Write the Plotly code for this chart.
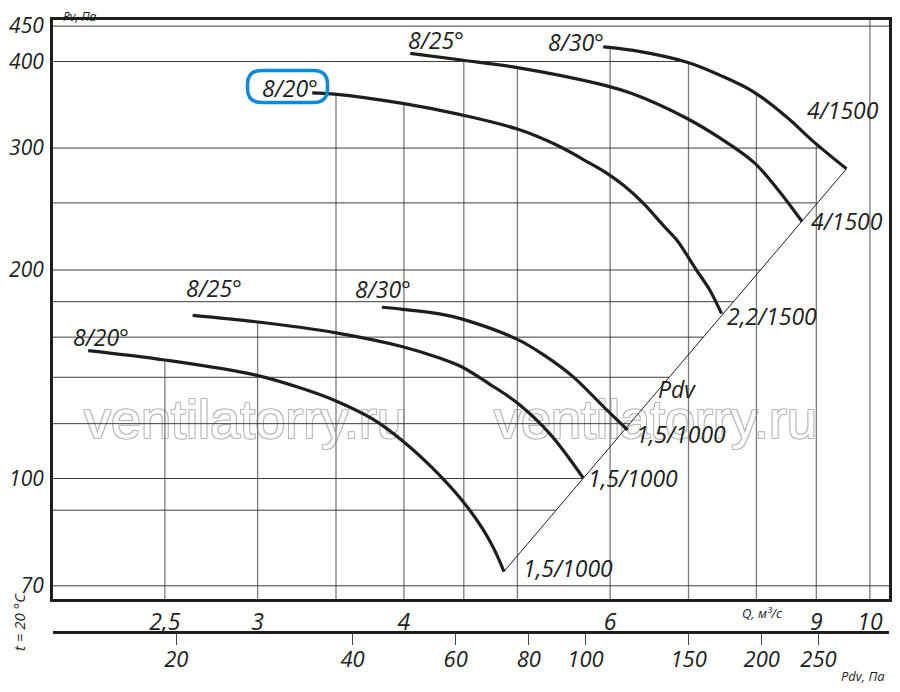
import numpy as np
import plotly.graph_objects as go

# Fan curves: Q in m3/s, Pv in Pa
q_1500_20 = [3.34, 3.49, 3.99, 4.48, 5.0, 5.40, 5.77, 5.96, 6.16, 6.40, 6.66, 6.84, 6.98, 7.11, 7.30, 7.47]
pv_1500_20 = [360.5, 359, 348, 335, 319.5, 303, 285, 276, 265, 250, 232, 221, 210, 200, 187, 173]

q_1500_25 = [4.05, 4.48, 5.0, 5.88, 6.28, 6.98, 7.45, 7.96, 8.35, 8.75]
pv_1500_25 = [411, 402, 392, 371, 359, 331, 310, 286, 261, 235]

q_1500_30 = [5.92, 6.28, 6.98, 7.45, 7.96, 8.49, 8.96, 9.55]
pv_1500_30 = [420, 415, 399, 382, 361.4, 332.6, 306, 280]

q_1000_20 = [2.15, 2.50, 2.99, 3.30, 3.50, 3.76, 3.99, 4.23, 4.48, 4.67, 4.77, 4.87]
pv_1000_20 = [153, 148.3, 141, 134.3, 129.4, 121.9, 113.3, 103.6, 93.2, 84.6, 79.4, 73.4]

q_1000_25 = [2.64, 2.99, 3.50, 3.99, 4.29, 4.48, 4.73, 5.0, 5.33, 5.69]
pv_1000_25 = [172, 168.4, 162.3, 155, 149.3, 145, 137, 128.5, 116, 100.2]

q_1000_30 = [3.83, 3.99, 4.29, 4.48, 5.0, 5.28, 5.58, 5.96, 6.21]
pv_1000_30 = [176.7, 175.5, 172.9, 170, 158.8, 150.3, 140.2, 125.6, 117.5]

# dynamic pressure line Pdv
q_pdv = [4.87, 9.55]
pv_pdv = [73.4, 280]

# axes
q_ticks = [2.5, 3, 4, 6, 9, 10]
q_ticktext = ["2,5", "3", "4", "6", "9", "10"]
q_grid = [2.5, 3, 3.5, 4, 4.5, 5, 6, 7, 8, 9, 10]
pv_ticks = [70, 100, 200, 300, 400, 450]
pv_grid = [70, 90, 100, 120, 140, 160, 180, 200, 250, 300, 400, 450]
pdv_ticks = [20, 40, 60, 80, 100, 150, 200, 250]
PDV_K = 3.06  # Pdv = k * Q^2

X_RANGE = [0.3024, 1.0163]
Y_RANGE = [1.826, 2.662]

curves = [
    (q_1500_20, pv_1500_20), (q_1500_25, pv_1500_25), (q_1500_30, pv_1500_30),
    (q_1000_20, pv_1000_20), (q_1000_25, pv_1000_25), (q_1000_30, pv_1000_30),
]

INK = "#1e1e1e"
FONT = "Open Sans"


def interp_log(v, xs, ys):
    lx, ly = np.log10(xs), np.log10(ys)
    order = np.argsort(lx)
    lx, ly = lx[order], ly[order]
    lv = np.log10(v)
    if lx[0] <= lv <= lx[-1]:
        return 10 ** np.interp(lv, lx, ly)
    return None


def px2paper(x, y):
    # window pixels -> plot-area fraction (page body has an 8px margin)
    return (x - 53) / 836, (632 - y) / 612


fig = go.Figure()

# watermark under everything
wm_font = dict(family="Liberation Sans", size=54, color="white",
               shadow="1px 1px 0 #b8b8b8, -1px -1px 0 #b8b8b8, 1px -1px 0 #b8b8b8, -1px 1px 0 #b8b8b8")
fig.add_trace(go.Scatter(x=[2.93, 6.56], y=[119.5, 119.5], mode="text",
                         text=["ventilatorry.ru"] * 2, textfont=wm_font,
                         hoverinfo="skip", showlegend=False))

# grid clipped to the area under the curves
y_bot, y_top = 10 ** Y_RANGE[0], 10 ** Y_RANGE[1]
x_left, x_right = 10 ** X_RANGE[0], 10 ** X_RANGE[1]
vx, vy = [], []
for q in q_grid:
    tops = [interp_log(q, c[0], c[1]) for c in curves]
    tops = [t for t in tops if t is not None]
    vx += [q, q, None]
    vy += [y_bot, max(tops) if tops else y_top, None]
hx, hy = [], []
for pv in pv_grid:
    ends = [interp_log(pv, c[1], c[0]) for c in curves + [(q_pdv, pv_pdv)]]
    ends = [e for e in ends if e is not None]
    hx += [x_left, max(ends) if ends else x_right, None]
    hy += [pv, pv, None]
fig.add_trace(go.Scatter(x=vx, y=vy, mode="lines", line=dict(color="#7a7a7a", width=1.3),
                         hoverinfo="skip", showlegend=False))
fig.add_trace(go.Scatter(x=hx, y=hy, mode="lines", line=dict(color="#3c3c3c", width=1),
                         hoverinfo="skip", showlegend=False))

fig.add_trace(go.Scatter(x=q_pdv, y=pv_pdv, mode="lines", line=dict(color=INK, width=1),
                         hoverinfo="skip", showlegend=False))
for qs, pvs in curves:
    fig.add_trace(go.Scatter(x=qs, y=pvs, mode="lines",
                             line=dict(color=INK, width=3.2, shape="spline", smoothing=1.0),
                             hoverinfo="skip", showlegend=False))

# Pdv scale axis (dummy trace keeps it alive)
pdv_pos = [float(np.sqrt(p / PDV_K)) for p in pdv_ticks]
fig.add_trace(go.Scatter(x=pdv_pos, y=[None] * len(pdv_pos), xaxis="x2", mode="markers",
                         hoverinfo="skip", showlegend=False))

big = dict(family=FONT, size=23, color=INK, style="italic")
small = dict(family=FONT, size=13, color=INK, style="italic")

labels = [
    ("8/20°", 290, 88), ("8/25°", 436, 40), ("8/30°", 576, 42),
    ("4/1500", 843, 110), ("4/1500", 847, 221), ("2,2/1500", 772, 316),
    ("8/20°", 101, 337), ("8/25°", 214, 288), ("8/30°", 383, 289),
    ("Pdv", 677, 389), ("1,5/1000", 681, 434), ("1,5/1000", 633, 478),
    ("1,5/1000", 568, 568),
]
for text, x, y in labels:
    px, py = px2paper(x, y)
    fig.add_annotation(x=px, y=py, xref="paper", yref="paper", text=text, showarrow=False,
                       font=big, xanchor="center", yanchor="middle", borderpad=0)

for text, x, y, f, ang in [("Pv, Па", 80, 16, dict(small, size=12), 0),
                           ("Q, м³/с", 762, 613, small, 0),
                           ("Pdv, Па", 863, 676, small, 0),
                           ("t = 20 °C", 19, 622, dict(small, size=15), -90)]:
    px, py = px2paper(x, y)
    fig.add_annotation(x=px, y=py, xref="paper", yref="paper", text=text, showarrow=False,
                       font=f, textangle=ang, xanchor="center", yanchor="middle", borderpad=0)

# blue rounded box round the upper 8/20° label
bx, by = px2paper(287.5, 86.5)
fig.add_shape(type="path", xref="paper", yref="paper", xsizemode="pixel", ysizemode="pixel",
              xanchor=bx, yanchor=by,
              path="M -26,-16 L 26,-16 Q 40,-16 40,-2 L 40,2 Q 40,16 26,16 L -26,16 "
                   "Q -40,16 -40,2 L -40,-2 Q -40,-16 -26,-16 Z",
              line=dict(color="#1289d6", width=3.5))

axis_common = dict(type="log", showgrid=False, zeroline=False, linecolor=INK, automargin=False)
fig.update_layout(
    width=884, height=676,
    margin=dict(l=45, r=3, t=12, b=52),
    paper_bgcolor="white", plot_bgcolor="white",
    hovermode=False, showlegend=False,
    xaxis=dict(axis_common, range=X_RANGE, domain=[0, 1], anchor="y", showline=True,
               linewidth=3, mirror=True, ticks="", tickvals=q_ticks, ticktext=q_ticktext,
               tickfont=big),
    yaxis=dict(axis_common, range=Y_RANGE, domain=[0.0539, 1], showline=True, linewidth=3,
               mirror=True, ticks="", tickvals=pv_ticks, ticktext=[str(v) for v in pv_ticks],
               tickfont=dict(big, size=21), ticklabelstandoff=2),
    xaxis2=dict(axis_common, range=X_RANGE, overlaying="x", anchor="free", position=0,
                side="bottom", showline=True, linewidth=3, ticks="outside", ticklen=11,
                tickwidth=1.2, tickcolor="#444", tickvals=pdv_pos,
                ticktext=[str(p) for p in pdv_ticks], tickfont=dict(big, size=22),
                ticklabelstandoff=-4),
    xaxis3=dict(axis_common, range=X_RANGE, overlaying="x", anchor="free", position=0,
                side="bottom", showline=False, ticks="inside", ticklen=6, tickwidth=1.2,
                tickcolor="#444", tickvals=pdv_pos, showticklabels=False),
)

fig.write_html("out.html")
